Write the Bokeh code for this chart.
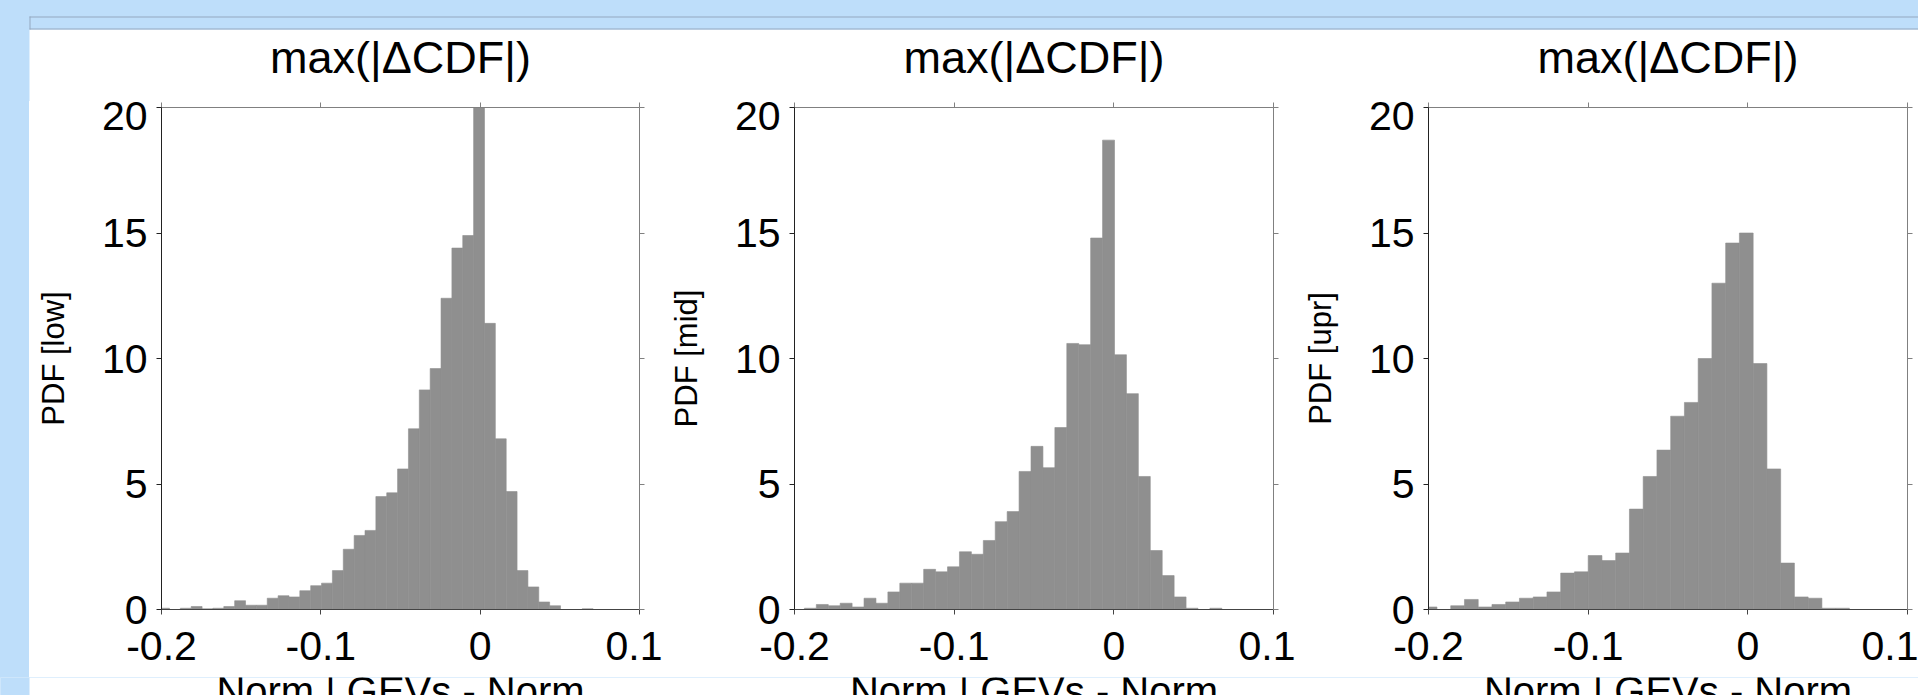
from bokeh.plotting import figure
from bokeh.layouts import row, column
from bokeh.models import Spacer, Range1d, FixedTicker, LinearAxis, ColumnDataSource
from bokeh.core.properties import value
from bokeh.embed import file_html
from bokeh.resources import INLINE

# ---------------- data ----------------
panel_titles = ["max(|\u0394CDF|)", "max(|\u0394CDF|)", "max(|\u0394CDF|)"]
y_labels = ["PDF [low]", "PDF [mid]", "PDF [upr]"]
x_labels = ["Norm | GEVs - Norm", "Norm | GEVs - Norm", "Norm | GEVs - Norm"]
x_ticks = [-0.2, -0.1, 0, 0.1]
x_tick_labels = ["-0.2", "-0.1", "0", "0.1"]
y_ticks = [0, 5, 10, 15, 20]
y_tick_labels = ["0", "5", "10", "15", "20"]

# histogram bins: first bin left edge, bin width, PDF heights
low_bin_start = -0.2018
low_bin_width = 0.006817
low_pdf = [0.05, 0.0, 0.05, 0.12, 0.03, 0.05, 0.12, 0.35, 0.17, 0.17,
           0.45, 0.55, 0.5, 0.75, 0.95, 1.05, 1.55, 2.4, 2.95, 3.15,
           4.5, 4.65, 5.6, 7.2, 8.75, 9.6, 12.4, 14.4, 14.9, 20.0,
           11.4, 6.8, 4.7, 1.55, 0.9, 0.3, 0.15, 0.0, 0.0, 0.03]

mid_bin_start = -0.1938
mid_bin_width = 0.00747
mid_pdf = [0.05, 0.2, 0.15, 0.25, 0.1, 0.45, 0.25, 0.7, 1.05, 1.05,
           1.6, 1.5, 1.7, 2.3, 2.2, 2.75, 3.5, 3.9, 5.5, 6.5,
           5.65, 7.25, 10.6, 10.55, 14.8, 18.7, 10.15, 8.6, 5.3, 2.35,
           1.35, 0.5, 0.05, 0.0, 0.05]

upr_bin_start = -0.2033
upr_bin_width = 0.00861
upr_pdf = [0.1, 0.0, 0.15, 0.4, 0.1, 0.2, 0.3, 0.45, 0.5, 0.7,
           1.45, 1.5, 2.15, 1.95, 2.25, 4.0, 5.3, 6.35, 7.7, 8.25,
           10.0, 13.0, 14.6, 15.0, 9.8, 5.6, 1.85, 0.5, 0.45, 0.05, 0.05]

# ---------------- styling / page geometry (pixels) ----------------
FONT = "Liberation Sans"
BAR = "#8f8f8f"
BG_BLUE = "#bedefa"
BAND_LINE = "#94a8c0"
DARK = "#222222"
GREY = "#808080"
PAGE_W, PAGE_H = 1918, 695
SLIDE_X = 29            # left edge of the white slide area
TOP_H = 101             # strip above the panels (band + titles)
BOT_H = 18              # strip below the panels (cut-off x labels)
FRAME_H = 502
PANEL_H = PAGE_H - TOP_H - BOT_H
# (min_border_left, frame_width, min_border_right) of each panel
panel_geom = [(132, 478, 23), (132, 479, 22), (133, 479, 11)]


def style_axis(ax, color, labels, standoff=0):
    ax.axis_line_color = color
    ax.axis_line_width = 1
    ax.major_tick_line_color = color
    ax.major_tick_out = 5
    ax.major_tick_in = 0
    ax.minor_tick_line_color = None
    ax.major_label_text_font = FONT
    if labels:
        ax.major_label_text_color = "black"
        ax.major_label_text_font_size = "41px"
        ax.major_label_standoff = standoff
    else:
        ax.major_label_text_color = None
        ax.major_label_text_font_size = "0px"
        ax.major_label_standoff = 0


def make_panel(pdf, start, width, ylabel, geom):
    b_left, f_width, b_right = geom
    lefts = [start + i * width for i in range(len(pdf))]
    rights = [l + width for l in lefts]
    src = ColumnDataSource(dict(left=lefts, right=rights, top=pdf,
                                bottom=[0.0] * len(pdf)))
    p = figure(frame_width=f_width, frame_height=FRAME_H,
               min_border_left=b_left, min_border_right=b_right,
               min_border_top=6, min_border_bottom=PANEL_H - FRAME_H - 6,
               x_range=Range1d(-0.2, 0.1), y_range=Range1d(0, 20),
               x_axis_location=None, y_axis_location=None,
               output_backend="svg", toolbar_location=None, tools="",
               margin=0)
    p.xgrid.grid_line_color = None
    p.ygrid.grid_line_color = None
    p.outline_line_color = None
    p.background_fill_color = "white"
    p.border_fill_color = "white"

    p.quad(left="left", right="right", top="top", bottom="bottom",
           source=src, fill_color=BAR, line_color=BAR, line_width=0.6)

    xover = {t: s for t, s in zip(x_ticks, x_tick_labels)}
    yover = {t: s for t, s in zip(y_ticks, y_tick_labels)}

    bx = LinearAxis(ticker=FixedTicker(ticks=x_ticks), major_label_overrides=xover)
    style_axis(bx, "#444444", True, 17)
    p.add_layout(bx, "below")
    tx = LinearAxis(ticker=FixedTicker(ticks=x_ticks))
    style_axis(tx, GREY, False)
    p.add_layout(tx, "above")

    ly = LinearAxis(ticker=FixedTicker(ticks=y_ticks), major_label_overrides=yover)
    style_axis(ly, DARK, True, 9)
    ly.axis_label = ylabel
    ly.axis_label_text_font = FONT
    ly.axis_label_text_font_size = "31px"
    ly.axis_label_text_font_style = "normal"
    ly.axis_label_text_color = "black"
    ly.axis_label_standoff = 28
    p.add_layout(ly, "left")
    ry = LinearAxis(ticker=FixedTicker(ticks=y_ticks))
    style_axis(ry, GREY, False)
    p.add_layout(ry, "right")
    return p


pdfs = [(low_pdf, low_bin_start, low_bin_width),
        (mid_pdf, mid_bin_start, mid_bin_width),
        (upr_pdf, upr_bin_start, upr_bin_width)]
panels = [make_panel(d, s, w, yl, g) for (d, s, w), yl, g in zip(pdfs, y_labels, panel_geom)]

# horizontal centres of the three frames in page pixels
centres = []
x0 = SLIDE_X
for bl, fw, br in panel_geom:
    centres.append(x0 + bl + fw / 2.0)
    x0 += bl + fw + br


def strip(height, y_top, fill):
    s = figure(frame_width=PAGE_W, frame_height=height, min_border=0,
               x_range=Range1d(0, PAGE_W), y_range=Range1d(y_top + height, y_top),
               x_axis_location=None, y_axis_location=None,
               output_backend="svg", toolbar_location=None, tools="", margin=0)
    s.xgrid.grid_line_color = None
    s.ygrid.grid_line_color = None
    s.outline_line_color = None
    s.background_fill_color = fill
    s.border_fill_color = fill
    return s


# top strip: slide header band + panel titles
top = strip(TOP_H, 0, BG_BLUE)
top.quad(left=[SLIDE_X], right=[PAGE_W + 5], top=[29], bottom=[TOP_H + 5],
         fill_color="white", line_color=None)
top.segment(x0=[SLIDE_X, SLIDE_X, SLIDE_X + 0.5], y0=[16.5, 28.5, 16],
            x1=[PAGE_W, PAGE_W, SLIDE_X + 0.5], y1=[16.5, 28.5, 29],
            line_color=BAND_LINE, line_width=1)
top.text(x=centres, y=[56.5] * 3, text=panel_titles, text_align="center",
         text_baseline="middle", text_font=value(FONT),
         text_font_size="45px", text_color="black")

# bottom strip: x labels, cut off by the page edge as in the original
bot = strip(BOT_H, TOP_H + PANEL_H, "white")
bot.quad(left=[-5], right=[SLIDE_X], top=[TOP_H + PANEL_H - 5], bottom=[PAGE_H + 5],
         fill_color=BG_BLUE, line_color=None)
bot.text(x=centres, y=[690] * 3, text=x_labels, text_align="center",
         text_baseline="middle", text_font=value(FONT),
         text_font_size="40px", text_color="black")

mid = row(Spacer(width=SLIDE_X, height=PANEL_H, margin=0),
          row(*panels, spacing=0, margin=0, styles={"background-color": "white"}),
          spacing=0, margin=0)
layout = column(top, mid, bot, spacing=0, margin=0)

html = file_html(layout, INLINE, title="max(|\u0394CDF|) histograms")
html = html.replace("<head>",
                    "<head><style>html,body{background:%s;overflow:hidden;}</style>" % BG_BLUE, 1)
open("out.html", "w").write(html)
